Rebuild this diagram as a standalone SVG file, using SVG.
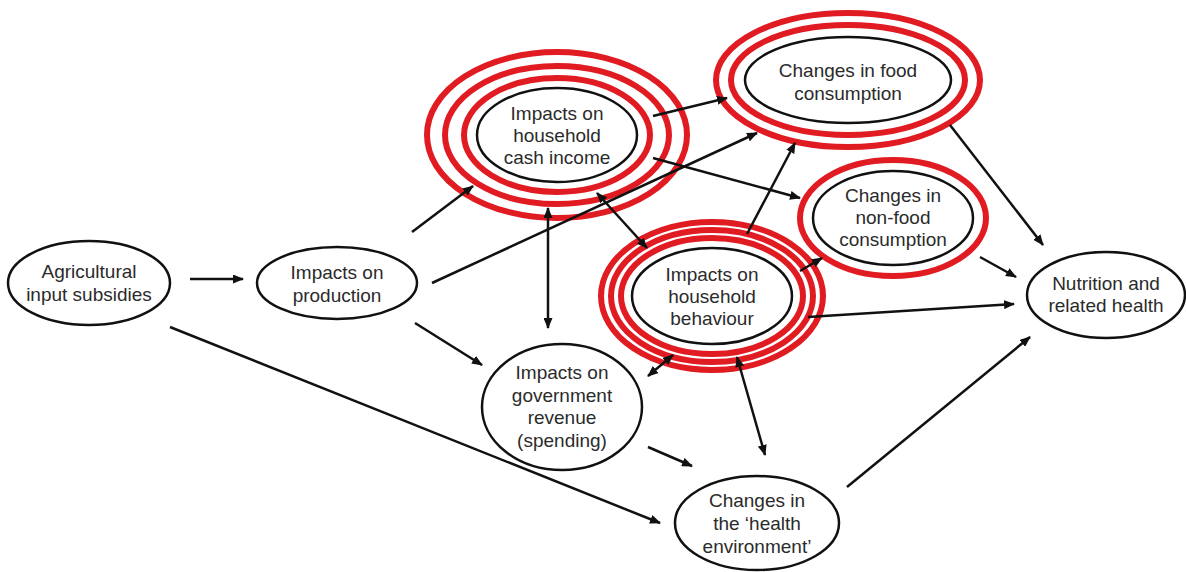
<svg xmlns="http://www.w3.org/2000/svg" width="1186" height="572" viewBox="0 0 1186 572">
<style>
.node{fill:#fff;stroke:#111;stroke-width:2.5}
.ring{fill:none;stroke:#e01b22;stroke-width:6}
.lbl{font-family:"Liberation Sans",Arial,sans-serif;font-size:19px;fill:#2b2b2b;text-anchor:middle}
.edge{stroke:#111;stroke-width:2.5;fill:none;marker-end:url(#ah)}
.bi{marker-start:url(#ah)}
</style>
<defs>
<marker id="ah" markerUnits="userSpaceOnUse" markerWidth="11" markerHeight="9" refX="10" refY="4.5" orient="auto-start-reverse">
<path d="M0,0 L11,4.5 L0,9 z" fill="#111"/>
</marker>
</defs>
<rect width="1186" height="572" fill="#fff"/>

<g id="n-agri">
<ellipse class="node" cx="89" cy="283" rx="81" ry="42"/>
<text class="lbl" x="89" y="278">Agricultural</text>
<text class="lbl" x="89" y="301">input subsidies</text>
</g>

<g id="n-production">
<ellipse class="node" cx="337" cy="283" rx="80" ry="36"/>
<text class="lbl" x="337" y="279">Impacts on</text>
<text class="lbl" x="337" y="302">production</text>
</g>

<g id="n-cash">
<ellipse class="ring" cx="557" cy="135" rx="130" ry="83"/>
<ellipse class="ring" cx="557" cy="135" rx="112" ry="69"/>
<ellipse class="ring" cx="557" cy="135" rx="93" ry="57"/>
<ellipse class="node" cx="557" cy="135" rx="80" ry="47"/>
<text class="lbl" x="557" y="120">Impacts on</text>
<text class="lbl" x="557" y="142">household</text>
<text class="lbl" x="557" y="164">cash income</text>
</g>

<g id="n-food">
<ellipse class="ring" cx="848" cy="80" rx="132" ry="67"/>
<ellipse class="ring" cx="848" cy="80" rx="117" ry="55"/>
<ellipse class="node" cx="848" cy="80" rx="103" ry="43"/>
<text class="lbl" x="848" y="77">Changes in food</text>
<text class="lbl" x="848" y="100">consumption</text>
</g>

<g id="n-nonfood">
<ellipse class="ring" cx="893" cy="218" rx="93" ry="58"/>
<ellipse class="node" cx="893" cy="218" rx="80" ry="47"/>
<text class="lbl" x="893" y="202">Changes in</text>
<text class="lbl" x="893" y="224">non-food</text>
<text class="lbl" x="893" y="246">consumption</text>
</g>

<g id="n-behaviour">
<ellipse class="ring" cx="712" cy="296" rx="111" ry="74"/>
<ellipse class="ring" cx="712" cy="296" rx="101" ry="66"/>
<ellipse class="ring" cx="712" cy="296" rx="91" ry="58"/>
<ellipse class="node" cx="712" cy="296" rx="80" ry="48"/>
<text class="lbl" x="712" y="281">Impacts on</text>
<text class="lbl" x="712" y="303">household</text>
<text class="lbl" x="712" y="325">behaviour</text>
</g>

<g id="n-gov">
<ellipse class="node" cx="562" cy="407" rx="80" ry="63"/>
<text class="lbl" x="562" y="379">Impacts on</text>
<text class="lbl" x="562" y="402">government</text>
<text class="lbl" x="562" y="424">revenue</text>
<text class="lbl" x="562" y="447">(spending)</text>
</g>

<g id="n-health">
<ellipse class="node" cx="757" cy="523" rx="82" ry="47"/>
<text class="lbl" x="757" y="507">Changes in</text>
<text class="lbl" x="757" y="530">the ‘health</text>
<text class="lbl" x="757" y="553">environment’</text>
</g>

<g id="n-nutrition">
<ellipse class="node" cx="1106" cy="295" rx="79" ry="43"/>
<text class="lbl" x="1106" y="290">Nutrition and</text>
<text class="lbl" x="1106" y="312">related health</text>
</g>

<g id="connectors">
<line class="edge" x1="190" y1="279" x2="243" y2="279"/>
<line class="edge" x1="412" y1="232" x2="473" y2="186"/>
<line class="edge" x1="432" y1="283" x2="757" y2="133"/>
<line class="edge" x1="653" y1="116" x2="727" y2="98"/>
<line class="edge" x1="653" y1="158" x2="800" y2="198"/>
<line class="edge bi" x1="548" y1="208" x2="548" y2="328"/>
<line class="edge bi" x1="597" y1="193" x2="647" y2="248"/>
<line class="edge" x1="747" y1="234" x2="795" y2="143"/>
<line class="edge" x1="800" y1="271" x2="822" y2="258"/>
<line class="edge" x1="808" y1="317" x2="1014" y2="304"/>
<line class="edge" x1="980" y1="257" x2="1016" y2="277"/>
<line class="edge" x1="950" y1="125" x2="1043" y2="245"/>
<line class="edge" x1="170" y1="327" x2="660" y2="523"/>
<line class="edge" x1="415" y1="323" x2="482" y2="365"/>
<line class="edge" x1="648" y1="447" x2="692" y2="466"/>
<line class="edge bi" x1="673" y1="355" x2="648" y2="376"/>
<line class="edge bi" x1="737" y1="357" x2="765" y2="455"/>
<line class="edge" x1="847" y1="487" x2="1030" y2="337"/>
</g>
</svg>
